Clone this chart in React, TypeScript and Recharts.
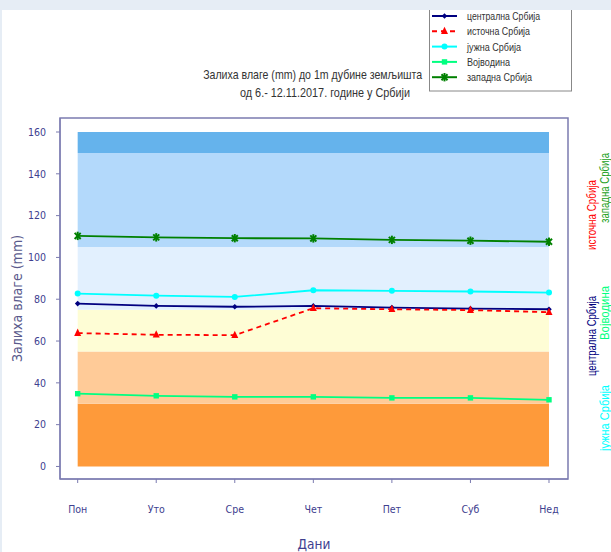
import React from 'react';
import { LineChart, Line, XAxis, YAxis, ReferenceArea } from 'recharts';

// ---- data ----
const days = ['Пон', 'Уто', 'Сре', 'Чет', 'Пет', 'Суб', 'Нед'];
const central = [77.9, 76.8, 76.4, 76.8, 76.0, 75.5, 75.2];
const eastern = [63.8, 63.0, 62.8, 75.7, 75.2, 74.8, 73.8];
const southern = [82.7, 81.7, 81.1, 84.3, 84.0, 83.7, 83.2];
const vojvodina = [34.8, 33.8, 33.3, 33.3, 32.8, 32.8, 31.9];
const western = [110.3, 109.6, 109.2, 109.1, 108.4, 108.0, 107.5];
const yTicks = [0, 20, 40, 60, 80, 100, 120, 140, 160];
const bandEdges = [0, 30, 55, 75, 105, 150, 160];
const seriesNames = ['централна Србија', 'источна Србија', 'јужна Србија', 'Војводина', 'западна Србија'];
const titleLines = ['Залиха влаге (mm) до 1m дубине земљишта', 'од 6.- 12.11.2017. године у Србији'];

// ---- styles ----
const bandColors = ['#fe9a3a', '#ffcb98', '#fefdd5', '#e2f0fe', '#b3d9fb', '#65b3ec'];
const C_CENTRAL = '#000080';
const C_EAST = '#ff0000';
const C_SOUTH = '#00ffff';
const C_VOJ = '#00ff80';
const C_WEST = '#008000';
const AXIS = '#7b7bb0';
const TICK = '#40408f';
const FONT = '"DejaVu Sans Condensed", "Liberation Sans", sans-serif';
const TFONT = '"Liberation Sans", Arial, sans-serif';

const xDomain = [-0.225, 6.242];
const yDomain = [-6, 166.7];

const data = days.map((d, i) => ({
  x: i,
  day: d,
  central: central[i],
  eastern: eastern[i],
  southern: southern[i],
  vojvodina: vojvodina[i],
  western: western[i],
}));

const Diamond = ({ cx, cy, color }: any) => {
  const s = 2.8;
  return <polygon points={`${cx},${cy - s} ${cx + s},${cy} ${cx},${cy + s} ${cx - s},${cy}`} fill={color} />;
};
const Triangle = ({ cx, cy, color }: any) => (
  <polygon points={`${cx},${cy - 4.5} ${cx + 3.5},${cy + 2.8} ${cx - 3.5},${cy + 2.8}`} fill={color} />
);
const Circle = ({ cx, cy, color }: any) => <circle cx={cx} cy={cy} r={3} fill={color} />;
const Square = ({ cx, cy, color }: any) => <rect x={cx - 2.7} y={cy - 2.7} width={5.4} height={5.4} fill={color} />;
const Star = ({ cx, cy, color }: any) => {
  const r = 4.2;
  const d = r * 0.72;
  return (
    <g stroke={color} strokeWidth={2}>
      <line x1={cx} y1={cy - r} x2={cx} y2={cy + r} />
      <line x1={cx - d} y1={cy - d} x2={cx + d} y2={cy + d} />
      <line x1={cx - d} y1={cy + d} x2={cx + d} y2={cy - d} />
    </g>
  );
};

const mkDot = (Shape: any, color: string, name: string) => (p: any) => (
  <Shape key={`${name}-${p.index}`} cx={p.cx} cy={p.cy} color={color} />
);

const legendRows = [
  { name: seriesNames[0], color: C_CENTRAL, Shape: Diamond, dash: undefined, w: 73 },
  { name: seriesNames[1], color: C_EAST, Shape: Triangle, dash: '5 4', w: 63 },
  { name: seriesNames[2], color: C_SOUTH, Shape: Circle, dash: undefined, w: 54 },
  { name: seriesNames[3], color: C_VOJ, Shape: Square, dash: undefined, w: 43 },
  { name: seriesNames[4], color: C_WEST, Shape: Star, dash: undefined, w: 65 },
];

const sideLabels = [
  { name: seriesNames[0], color: C_CENTRAL, x: 592, y: 336, w: 80 },
  { name: seriesNames[1], color: C_EAST, x: 592, y: 215, w: 70 },
  { name: seriesNames[2], color: C_SOUTH, x: 604.5, y: 418, w: 66 },
  { name: seriesNames[3], color: C_VOJ, x: 604.5, y: 313, w: 54 },
  { name: seriesNames[4], color: '#22a022', x: 604.5, y: 188, w: 70 },
];

export default function App() {
  return (
    <div style={{ position: 'absolute', left: 0, top: 0, width: 611, height: 552, background: '#fff', fontFamily: FONT }}>
      <LineChart
        width={611}
        height={552}
        data={data}
        margin={{ top: 118, right: 43, bottom: 43, left: 10 }}
      >
        <XAxis
          dataKey="x"
          type="number"
          domain={xDomain}
          allowDataOverflow
          ticks={[0, 1, 2, 3, 4, 5, 6]}
          tickFormatter={(v: number) => days[v]}
          interval={0}
          height={30}
          stroke={AXIS}
          tickSize={4}
          tickMargin={23}
          tick={{ fill: TICK, fontSize: 10.5, fontFamily: FONT }}
          label={{ value: 'Дани', position: 'bottom', offset: 30, fill: '#40408f', fontSize: 13.5, fontFamily: FONT }}
        />
        <YAxis
          type="number"
          domain={yDomain}
          allowDataOverflow
          ticks={yTicks}
          interval={0}
          width={50}
          stroke={AXIS}
          tickSize={4}
          tickMargin={10}
          tick={{ fill: TICK, fontSize: 10.5, fontFamily: FONT }}
          label={{
            value: 'Залиха влаге (mm)',
            angle: -90,
            position: 'insideLeft',
            offset: 7,
            fill: '#5a5a8c',
            fontSize: 14,
            fontFamily: FONT,
            style: { textAnchor: 'middle' },
          }}
        />
        {bandColors.map((c, i) => (
          <ReferenceArea
            key={`band-${i}`}
            x1={0}
            x2={days.length - 1}
            y1={bandEdges[i]}
            y2={bandEdges[i + 1]}
            fill={c}
            fillOpacity={1}
            stroke="none"
            ifOverflow="visible"
          />
        ))}
        <ReferenceArea
          x1={xDomain[0]}
          x2={xDomain[1]}
          y1={yDomain[0]}
          y2={yDomain[1]}
          fill="none"
          stroke={AXIS}
          strokeWidth={1.5}
          ifOverflow="visible"
        />
        <Line dataKey="vojvodina" stroke={C_VOJ} strokeWidth={1.8} dot={mkDot(Square, C_VOJ, 'v')} isAnimationActive={false} />
        <Line dataKey="western" stroke={C_WEST} strokeWidth={1.8} dot={mkDot(Star, C_WEST, 'w')} isAnimationActive={false} />
        <Line dataKey="southern" stroke={C_SOUTH} strokeWidth={1.8} dot={mkDot(Circle, C_SOUTH, 's')} isAnimationActive={false} />
        <Line dataKey="central" stroke={C_CENTRAL} strokeWidth={1.8} dot={mkDot(Diamond, C_CENTRAL, 'c')} isAnimationActive={false} />
        <Line dataKey="eastern" stroke={C_EAST} strokeWidth={1.8} strokeDasharray="5 4" dot={mkDot(Triangle, C_EAST, 'e')} isAnimationActive={false} />
      </LineChart>

      <svg width={611} height={552} style={{ position: 'absolute', left: 0, top: 0, pointerEvents: 'none' }}>
        {/* title */}
        <text x={312.7} y={79} textAnchor="middle" fontSize={13} fill="#333" fontFamily={TFONT} textLength={219} lengthAdjust="spacingAndGlyphs">{titleLines[0]}</text>
        <text x={325} y={97} textAnchor="middle" fontSize={13} fill="#333" fontFamily={TFONT} textLength={170} lengthAdjust="spacingAndGlyphs">{titleLines[1]}</text>

        {/* legend */}
        <rect x={429.5} y={-5} width={142} height={96} fill="#fff" stroke="#888" strokeWidth={1} />
        {legendRows.map((r, i) => {
          const y = 16 + i * 15.3;
          return (
            <g key={`lg-${i}`}>
              <line x1={432} x2={457} y1={y} y2={y} stroke={r.color} strokeWidth={2} strokeDasharray={r.dash} />
              <r.Shape cx={444.5} cy={y} color={r.color} />
              <text x={467} y={y} dominantBaseline="central" fontSize={11.5} fill="#333" fontFamily={TFONT} textLength={r.w} lengthAdjust="spacingAndGlyphs">{r.name}</text>
            </g>
          );
        })}

        {/* right-side labels */}
        {sideLabels.map((s, i) => (
          <text
            key={`side-${i}`}
            transform={`translate(${s.x},${s.y}) rotate(-90)`}
            textAnchor="middle"
            dominantBaseline="central"
            fontSize={12.5}
            fill={s.color}
            fontFamily={TFONT}
            textLength={s.w}
            lengthAdjust="spacingAndGlyphs"
          >
            {s.name}
          </text>
        ))}

        {/* frame strips */}
        <rect x={0} y={0} width={611} height={10} fill="#e6edf5" />
        <rect x={0} y={0} width={2} height={552} fill="#e6edf5" />
      </svg>
    </div>
  );
}
